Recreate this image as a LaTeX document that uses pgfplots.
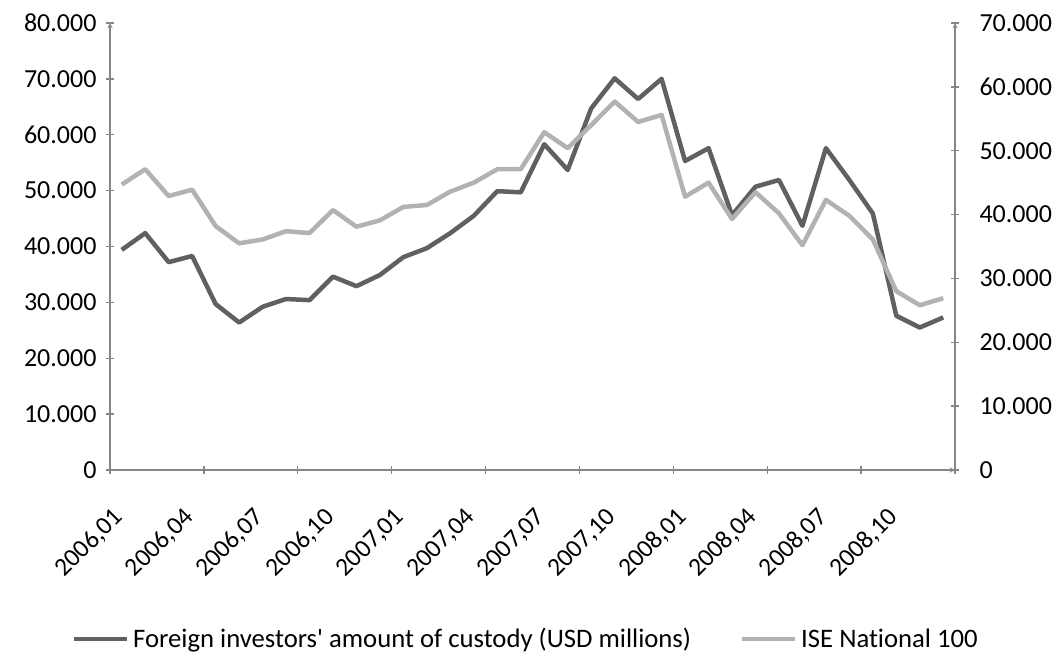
\documentclass[border=0pt]{standalone}
\usepackage{pgfplots}
\pgfplotsset{compat=1.18}
\usepackage{fontspec}
\setmainfont{Carlito}[Ligatures=NoCommon]
\definecolor{darkline}{HTML}{606060}
\definecolor{lightline}{HTML}{B2B2B2}
\definecolor{axisgray}{HTML}{868686}

\begin{document}
\begin{tikzpicture}
\pgfplotsset{
  common/.style={
    scale only axis,
    width=845pt, height=447pt,
    xmin=0, xmax=36,
    ymin=0,
    tick align=outside,
    major tick length=8pt,
    axis line style={-, draw=axisgray, line width=1.3pt},
    every tick/.style={draw=axisgray, line width=1.3pt},
    tick label style={font=\fontsize{26}{31}\selectfont, black},
    scaled y ticks=false,
    /pgf/number format/assume math mode=true,
    /pgf/number format/1000 sep={.},
    clip=false,
  }
}
\begin{axis}[
  common,
  ymax=80000,
  ytick={0,10000,...,80000},
  axis x line=bottom,
  axis y line=left,
  xtick={0,4,...,36},
  xticklabels={},
  extra x ticks={0.5,3.5,...,33.5},
  extra x tick labels={{2006,01},{2006,04},{2006,07},{2006,10},{2007,01},{2007,04},{2007,07},{2007,10},{2008,01},{2008,04},{2008,07},{2008,10}},
  extra x tick style={major tick length=0pt},
  xticklabel style={font=\fontsize{25.5}{30}\selectfont, xshift=-10pt, yshift=-36pt, rotate=45, anchor=north east, inner sep=0pt},
  yticklabel style={xshift=-6pt},
]
\addplot[darkline, line width=4.5pt, line join=round] coordinates {
(0.5,39400) (1.5,42400) (2.5,37200) (3.5,38300) (4.5,29700) (5.5,26400)
(6.5,29200) (7.5,30600) (8.5,30400) (9.5,34600) (10.5,32900) (11.5,34900)
(12.5,38100) (13.5,39700) (14.5,42400) (15.5,45500) (16.5,49900) (17.5,49700)
(18.5,58300) (19.5,53700) (20.5,64700) (21.5,70100) (22.5,66400) (23.5,70000)
(24.5,55300) (25.5,57600) (26.5,45600) (27.5,50700) (28.5,51900) (29.5,43700)
(30.5,57600) (31.5,51900) (32.5,45900) (33.5,27600) (34.5,25500) (35.5,27300)
};
\end{axis}
\begin{axis}[
  common,
  ymax=70000,
  ytick={0,10000,...,70000},
  axis x line=none,
  axis y line=right,
  yticklabel style={xshift=17pt},
  legend style={at={(0.4935,-0.378)}, anchor=center, draw=none, fill=none,
    legend columns=2,
    font=\fontsize{26.7}{32}\selectfont,
    /tikz/every even column/.append style={column sep=44pt},
    nodes={inner sep=4.5pt}},
  legend image code/.code={\draw[#1, line width=4pt] (0pt,0pt) -- (53pt,0pt);},
]
\addlegendimage{darkline}
\addlegendentry{Foreign investors\textquotesingle{} amount of custody (USD millions)}
\addplot[lightline, line width=4.5pt, line join=round] coordinates {
(0.5,44700) (1.5,47100) (2.5,42900) (3.5,43900) (4.5,38200) (5.5,35500)
(6.5,36100) (7.5,37400) (8.5,37100) (9.5,40700) (10.5,38100) (11.5,39100)
(12.5,41200) (13.5,41500) (14.5,43600) (15.5,45000) (16.5,47100) (17.5,47100)
(18.5,52900) (19.5,50400) (20.5,54000) (21.5,57700) (22.5,54500) (23.5,55600)
(24.5,42800) (25.5,45000) (26.5,39300) (27.5,43500) (28.5,40200) (29.5,35200)
(30.5,42300) (31.5,39800) (32.5,36100) (33.5,28000) (34.5,25800) (35.5,26900)
};
\addlegendentry{ISE National 100}
\end{axis}
\path[use as bounding box] (-110pt,-185pt) rectangle (952pt,470pt);
\end{tikzpicture}
\end{document}
